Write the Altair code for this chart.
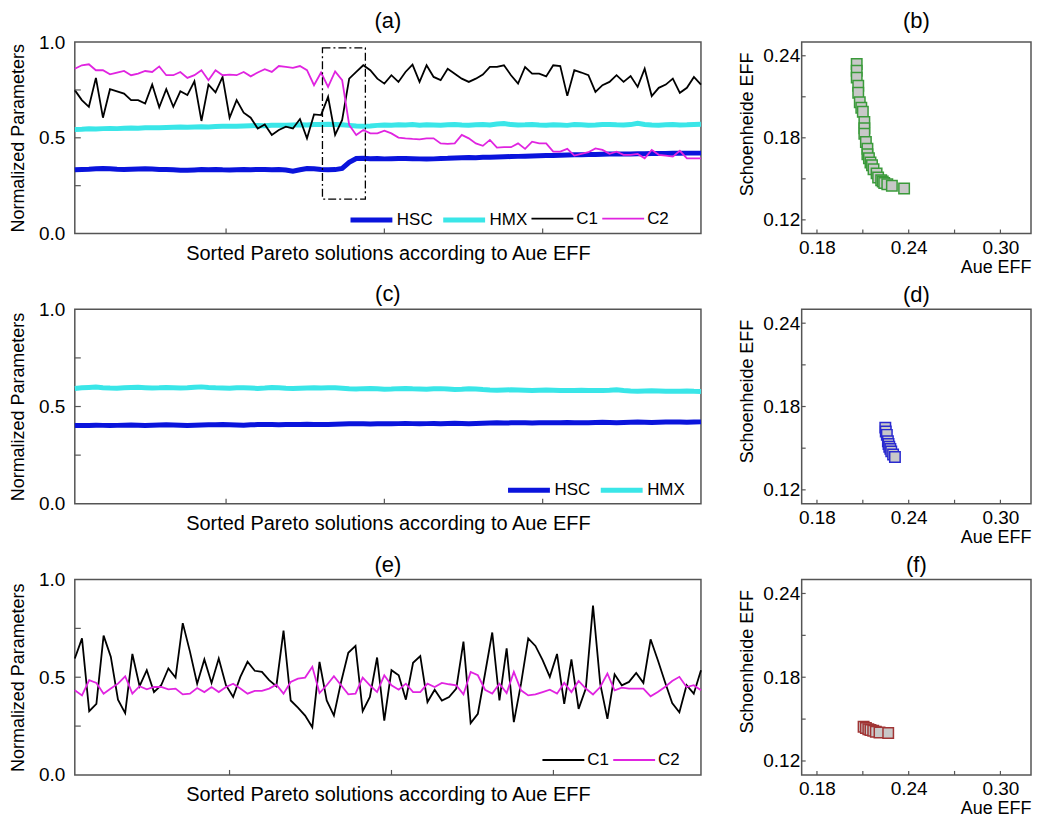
import altair as alt
import pandas as pd

FONT = "Liberation Sans"
FRAME = "#555555"
XTITLE = "Sorted Pareto solutions according to Aue EFF"

# ---------------- panel (a) ----------------
a_HSC = [0.333, 0.335, 0.336, 0.338, 0.340, 0.338, 0.336, 0.335, 0.336, 0.337,
         0.338, 0.337, 0.335, 0.334, 0.333, 0.331, 0.330, 0.332, 0.334, 0.333,
         0.335, 0.333, 0.332, 0.333, 0.334, 0.333, 0.335, 0.334, 0.333, 0.334,
         0.332, 0.326, 0.333, 0.340, 0.338, 0.334, 0.333, 0.334, 0.340,
         0.372,
         0.392, 0.393, 0.391, 0.392, 0.390, 0.391, 0.392, 0.392, 0.391, 0.390,
         0.389, 0.390, 0.392, 0.393, 0.395, 0.396, 0.397, 0.396, 0.398, 0.399,
         0.400, 0.401, 0.402, 0.403, 0.404, 0.405, 0.406, 0.407, 0.408, 0.409,
         0.410, 0.411, 0.412, 0.413, 0.413, 0.414, 0.415, 0.415, 0.416, 0.416,
         0.417, 0.417, 0.418, 0.418, 0.418, 0.419, 0.419, 0.420, 0.420, 0.420]
a_HMX = [0.544, 0.545, 0.547, 0.546, 0.548, 0.549, 0.548, 0.550, 0.551, 0.550,
         0.552, 0.553, 0.552, 0.554, 0.555, 0.556, 0.555, 0.557, 0.558, 0.557,
         0.559, 0.560, 0.561, 0.560, 0.562, 0.563, 0.564, 0.563, 0.565, 0.566,
         0.566, 0.567, 0.568, 0.567, 0.569, 0.570, 0.571, 0.570, 0.568, 0.565,
         0.562, 0.560, 0.562, 0.565, 0.567, 0.566, 0.568, 0.567, 0.569, 0.566,
         0.568, 0.567, 0.566, 0.568, 0.570, 0.567, 0.566, 0.568, 0.569, 0.567,
         0.572, 0.575, 0.569, 0.567, 0.568, 0.570, 0.567, 0.566, 0.568, 0.567,
         0.565, 0.570, 0.568, 0.566, 0.567, 0.569, 0.570, 0.568, 0.567, 0.569,
         0.576, 0.570, 0.567, 0.566, 0.568, 0.569, 0.567, 0.568, 0.570, 0.571]
a_C1 = [0.749, 0.697, 0.662, 0.813, 0.605, 0.754, 0.743, 0.731, 0.697, 0.697,
        0.679, 0.778, 0.659, 0.754, 0.662, 0.743, 0.723, 0.795, 0.588, 0.778,
        0.737, 0.818, 0.605, 0.697, 0.631, 0.605, 0.549, 0.570, 0.515, 0.541,
        0.558, 0.549, 0.598, 0.497, 0.622, 0.619, 0.714, 0.515, 0.593, 0.809,
        0.844, 0.879, 0.853, 0.809, 0.783, 0.827, 0.792, 0.844, 0.882, 0.792,
        0.879, 0.818, 0.801, 0.861, 0.835, 0.809, 0.792, 0.809, 0.830, 0.870,
        0.870, 0.879, 0.827, 0.783, 0.870, 0.835, 0.835, 0.821, 0.879, 0.875,
        0.719, 0.853, 0.841, 0.827, 0.740, 0.775, 0.792, 0.827, 0.792, 0.823,
        0.766, 0.861, 0.718, 0.761, 0.778, 0.809, 0.735, 0.761, 0.818, 0.778]
a_C2 = [0.861, 0.879, 0.884, 0.853, 0.853, 0.832, 0.841, 0.849, 0.827, 0.835,
        0.849, 0.844, 0.873, 0.827, 0.827, 0.844, 0.813, 0.827, 0.853, 0.801,
        0.853, 0.827, 0.830, 0.827, 0.844, 0.821, 0.841, 0.858, 0.844, 0.875,
        0.870, 0.865, 0.875, 0.853, 0.775, 0.841, 0.766, 0.847, 0.801, 0.567,
        0.515, 0.541, 0.523, 0.523, 0.537, 0.523, 0.501, 0.497, 0.494, 0.492,
        0.497, 0.497, 0.471, 0.468, 0.471, 0.515, 0.497, 0.471, 0.458, 0.489,
        0.449, 0.451, 0.451, 0.471, 0.442, 0.480, 0.471, 0.471, 0.428, 0.428,
        0.442, 0.407, 0.416, 0.425, 0.445, 0.437, 0.416, 0.428, 0.411, 0.411,
        0.416, 0.393, 0.437, 0.411, 0.407, 0.402, 0.432, 0.393, 0.393, 0.393]
# dash-dot highlight box in (a): solution index range and value range
a_box_idx = [36.2, 42.3]
a_box_val = [0.18, 0.97]

# ---------------- panel (c) ----------------
c_HSC = [0.402, 0.403, 0.402, 0.404, 0.403, 0.402, 0.403, 0.404, 0.405, 0.404,
         0.403, 0.404, 0.405, 0.406, 0.405, 0.404, 0.403, 0.404, 0.405, 0.406,
         0.406, 0.407, 0.406, 0.405, 0.404, 0.406, 0.407, 0.408, 0.407, 0.406,
         0.407, 0.408, 0.408, 0.409, 0.408, 0.407, 0.408, 0.409, 0.410, 0.411,
         0.412, 0.411, 0.410, 0.411, 0.412, 0.411, 0.412, 0.413, 0.412, 0.411,
         0.412, 0.413, 0.412, 0.413, 0.414, 0.413, 0.412, 0.413, 0.414, 0.415,
         0.416, 0.415, 0.416, 0.417, 0.416, 0.415, 0.416, 0.417, 0.416, 0.417,
         0.418, 0.417, 0.416, 0.417, 0.418, 0.419, 0.418, 0.417, 0.418, 0.419,
         0.420, 0.419, 0.418, 0.419, 0.420, 0.421, 0.420, 0.419, 0.420, 0.421]
c_HMX = [0.593, 0.596, 0.598, 0.600, 0.597, 0.595, 0.594, 0.596, 0.598, 0.599,
         0.597, 0.595, 0.596, 0.598, 0.597, 0.595, 0.596, 0.599, 0.601, 0.598,
         0.596, 0.595, 0.594, 0.596, 0.597, 0.595, 0.593, 0.595, 0.598, 0.596,
         0.594, 0.593, 0.594, 0.595, 0.596, 0.595, 0.597, 0.596, 0.594, 0.591,
         0.590, 0.592, 0.593, 0.591, 0.589, 0.590, 0.592, 0.593, 0.591, 0.590,
         0.589, 0.591, 0.592, 0.590, 0.588, 0.589, 0.591, 0.590, 0.587, 0.585,
         0.584, 0.585, 0.586, 0.585, 0.584, 0.583, 0.584, 0.585, 0.584, 0.583,
         0.582, 0.583, 0.584, 0.583, 0.582, 0.583, 0.584, 0.586, 0.582, 0.580,
         0.579, 0.580, 0.581, 0.580, 0.579, 0.578, 0.579, 0.580, 0.578, 0.577]

# ---------------- panel (e) ----------------
e_C1 = [0.596, 0.699, 0.326, 0.364, 0.713, 0.605, 0.385, 0.316, 0.619, 0.454,
        0.536, 0.424, 0.459, 0.545, 0.498, 0.777, 0.631, 0.467, 0.591, 0.471,
        0.596, 0.459, 0.399, 0.502, 0.579, 0.533, 0.527, 0.485, 0.454, 0.739,
        0.381, 0.344, 0.304, 0.244, 0.579, 0.381, 0.304, 0.476, 0.625, 0.660,
        0.326, 0.399, 0.601, 0.278, 0.536,
        0.510, 0.385, 0.574, 0.608, 0.373, 0.436, 0.381, 0.399, 0.442, 0.682,
        0.265, 0.313, 0.519, 0.729, 0.381, 0.648, 0.270, 0.467, 0.699, 0.660,
        0.588, 0.502, 0.619, 0.364, 0.591, 0.338, 0.442, 0.866, 0.467, 0.287,
        0.515, 0.459, 0.476, 0.522, 0.471, 0.694, 0.588, 0.476, 0.368, 0.321,
        0.459, 0.416, 0.536]
e_C2 = [0.433, 0.407, 0.485, 0.471, 0.416, 0.442, 0.467, 0.505, 0.416, 0.454,
        0.438, 0.450, 0.450, 0.438, 0.442, 0.412, 0.416, 0.445, 0.424, 0.450,
        0.424, 0.450, 0.467, 0.442, 0.416, 0.430, 0.430, 0.442, 0.462, 0.416,
        0.476, 0.493, 0.498, 0.553, 0.419, 0.459, 0.505, 0.459, 0.412, 0.416,
        0.498, 0.459, 0.424, 0.510, 0.459,
        0.436, 0.467, 0.424, 0.424, 0.467, 0.450, 0.471, 0.464, 0.459, 0.412,
        0.527, 0.510, 0.436, 0.416, 0.467, 0.419, 0.527, 0.433, 0.407, 0.412,
        0.424, 0.436, 0.416, 0.471, 0.424, 0.481, 0.442, 0.412, 0.450, 0.519,
        0.433, 0.447, 0.442, 0.442, 0.442, 0.402, 0.424, 0.450, 0.481, 0.502,
        0.450, 0.459, 0.433]

# ---------------- scatter panels (b), (d), (f) ----------------
b_aue = [0.206, 0.206, 0.206, 0.207, 0.207, 0.208, 0.209, 0.210, 0.211, 0.211,
         0.211, 0.212, 0.213, 0.213, 0.214, 0.215, 0.216, 0.217, 0.219, 0.220,
         0.222, 0.223, 0.224, 0.226, 0.229, 0.237]
b_sch = [0.234, 0.229, 0.224, 0.218, 0.213, 0.206, 0.202, 0.199, 0.1915, 0.187,
         0.183, 0.177, 0.172, 0.168, 0.165, 0.162, 0.160, 0.157, 0.154, 0.151,
         0.149, 0.148, 0.147, 0.146, 0.145, 0.143]
d_aue = [0.2247, 0.2250, 0.2257, 0.2264, 0.2268, 0.2273, 0.2280, 0.2286, 0.2298, 0.2310]
d_sch = [0.1648, 0.1620, 0.1596, 0.1550, 0.1530, 0.1510, 0.1495, 0.1477, 0.1455, 0.1436]
f_aue = [0.2105, 0.2120, 0.2136, 0.2150, 0.2168, 0.2185, 0.2209, 0.2266]
f_sch = [0.1445, 0.1436, 0.1428, 0.1422, 0.1416, 0.1410, 0.1404, 0.1400]

# tick positions
line_xticks = [22.5, 45, 67.5]
line_yticks = [0.25, 0.5, 0.75]
sc_xticks = [0.18, 0.21, 0.24, 0.27, 0.30]
sc_yticks = [0.12, 0.15, 0.18, 0.21, 0.24]

SERIES_COLORS = {"HSC": "#0a14dc", "HMX": "#3ae6e8", "C1": "#000000", "C2": "#e024e0"}
SERIES_WIDTHS = {"HSC": 5, "HMX": 5, "C1": 1.8, "C2": 1.8}

LINE_W = 628
SC_W = 230


def title(txt, offset):
    return alt.TitleParams(txt, fontSize=22, font=FONT, fontWeight="normal",
                           color="black", offset=offset, anchor="middle", frame="group")


def line_panel(series, ttl, toff, height, legend_x, extra=None):
    order = list(series.keys())
    rows = []
    for name in order:
        for i, v in enumerate(series[name]):
            rows.append({"idx": i + 1, "value": v, "series": name})
    df = pd.DataFrame(rows)
    n = max(len(v) for v in series.values())
    xax = alt.Axis(title=XTITLE, labels=False, ticks=False, domain=False, grid=False,
                   titleFontSize=20, titlePadding=10, titleFont=FONT,
                   titleFontWeight="normal", titleColor="black")
    yax = alt.Axis(title="Normalized Parameters", values=[0, 0.5, 1], format=".1f",
                   ticks=False, domain=False, grid=False, labelFontSize=19,
                   labelFont=FONT, labelColor="black", labelPadding=10,
                   titleFontSize=18, titleFont=FONT, titleFontWeight="normal",
                   titleColor="black", titlePadding=11)
    xs = alt.Scale(domain=[1, n], nice=False, zero=False)
    ys = alt.Scale(domain=[0, 1], nice=False, zero=False)
    leg = alt.Legend(title=None, orient="none", legendX=legend_x, legendY=height - 37,
                     direction="horizontal", symbolType="stroke", symbolSize=1764,
                     labelFontSize=17, labelFont=FONT, labelColor="black",
                     labelOffset=2, columnPadding=0, padding=0, gridAlign="none")
    lines = alt.Chart(df).mark_line().encode(
        x=alt.X("idx:Q", scale=xs, axis=xax),
        y=alt.Y("value:Q", scale=ys, axis=yax),
        color=alt.Color("series:N", sort=order,
                        scale=alt.Scale(domain=order, range=[SERIES_COLORS[s] for s in order]),
                        legend=leg),
        strokeWidth=alt.StrokeWidth("series:N", sort=order,
                                    scale=alt.Scale(type="ordinal", domain=order,
                                                    range=[SERIES_WIDTHS[s] for s in order]),
                                    legend=leg),
    )
    yt = alt.Chart(pd.DataFrame({"value": line_yticks})).mark_rule(
        color=FRAME, strokeWidth=1.2).encode(
        y=alt.Y("value:Q", scale=ys, axis=yax), x=alt.value(0), x2=alt.value(6))
    xt = alt.Chart(pd.DataFrame({"idx": line_xticks})).mark_rule(
        color=FRAME, strokeWidth=1.2).encode(
        x=alt.X("idx:Q", scale=xs, axis=xax), y=alt.value(height), y2=alt.value(height - 5))
    layers = [lines, yt, xt]
    if extra is not None:
        bidx, bval = extra
        box_df = pd.DataFrame({"idx": [bidx[0]], "idx2": [bidx[1]],
                               "value": [bval[0]], "value2": [bval[1]]})
        box = alt.Chart(box_df).mark_rect(fillOpacity=0, stroke="black", strokeWidth=1.3,
                                          strokeDash=[8, 3, 2, 3]).encode(
            x=alt.X("idx:Q", scale=xs, axis=xax), x2="idx2:Q",
            y=alt.Y("value:Q", scale=ys, axis=yax), y2="value2:Q")
        layers.append(box)
    return alt.layer(*layers).properties(width=LINE_W, height=height, title=title(ttl, toff))


def scatter_panel(aue, sch, stroke_col, ttl, toff, height):
    df = pd.DataFrame({"aue": aue, "sch": sch})
    xs = alt.Scale(domain=[0.17, 0.32], nice=False, zero=False)
    ys = alt.Scale(domain=[0.11, 0.25], nice=False, zero=False)
    xax = alt.Axis(title="Aue EFF", values=[0.18, 0.24, 0.30], format=".2f", ticks=False,
                   domain=False, grid=False, labelFontSize=19, labelFont=FONT,
                   labelColor="black", labelPadding=5, titleFontSize=18, titleFont=FONT,
                   titleFontWeight="normal", titleColor="black", titlePadding=1,
                   titleAnchor="end")
    yax = alt.Axis(title="Schoenheide EFF", values=[0.12, 0.18, 0.24], format=".2f",
                   ticks=False, domain=False, grid=False, labelFontSize=19, labelFont=FONT,
                   labelColor="black", labelPadding=2, titleFontSize=18, titleFont=FONT,
                   titleFontWeight="normal", titleColor="black", titlePadding=6,
                   titleY=82)
    pts = alt.Chart(df).mark_square(size=110, fill="#c8c8c8", stroke=stroke_col,
                                    strokeWidth=1.5, opacity=1, fillOpacity=1).encode(
        x=alt.X("aue:Q", scale=xs, axis=xax), y=alt.Y("sch:Q", scale=ys, axis=yax))
    xt = alt.Chart(pd.DataFrame({"aue": sc_xticks})).mark_rule(
        color=FRAME, strokeWidth=1.2).encode(
        x=alt.X("aue:Q", scale=xs, axis=xax), y=alt.value(height), y2=alt.value(height - 4))
    yt = alt.Chart(pd.DataFrame({"sch": sc_yticks})).mark_rule(
        color=FRAME, strokeWidth=1.2).encode(
        y=alt.Y("sch:Q", scale=ys, axis=yax), x=alt.value(0), x2=alt.value(4))
    return alt.layer(pts, xt, yt).properties(width=SC_W, height=height, title=title(ttl, toff))


H1, H2, H3 = 192, 195, 196

pa = line_panel({"HSC": a_HSC, "HMX": a_HMX, "C1": a_C1, "C2": a_C2}, "(a)", 0, H1, 274,
                extra=(a_box_idx, a_box_val))
pb = scatter_panel(b_aue, b_sch, "#3a9a3a", "(b)", 9, H1)
pc = line_panel({"HSC": c_HSC, "HMX": c_HMX}, "(c)", -6, H2, 432)
pd_ = scatter_panel(d_aue, d_sch, "#2a2ad0", "(d)", 2, H2)
pe = line_panel({"C1": e_C1, "C2": e_C2}, "(e)", -6, H3, 468)
pf = scatter_panel(f_aue, f_sch, "#a03434", "(f)", 3, H3)

chart = alt.concat(
    pa, pb, pc, pd_, pe, pf, columns=2,
    spacing={"row": 76, "column": 101}, bounds="flush", align="each"
).resolve_scale(
    color="independent", strokeWidth="independent"
).properties(padding=0).configure(font=FONT).configure_view(
    stroke=FRAME, strokeWidth=1.5
)

chart.save("out.html", embed_options={"renderer": "svg", "actions": False})
